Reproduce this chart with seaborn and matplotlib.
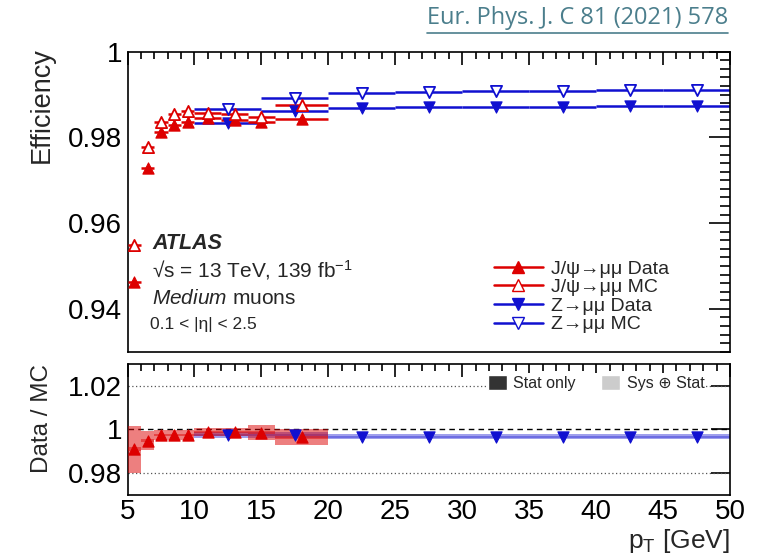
import numpy as np
import pandas as pd
import matplotlib
matplotlib.use("Agg")
import matplotlib.pyplot as plt
import seaborn as sns
from matplotlib.lines import Line2D
from matplotlib.patches import Patch
from matplotlib.ticker import MultipleLocator, FuncFormatter

# ---------------- data ----------------
jpsi_lo = [5, 6, 7, 8, 9, 10, 12, 14, 16]
jpsi_hi = [6, 7, 8, 9, 10, 12, 14, 16, 20]
jpsi_pt = [5.5, 6.5, 7.5, 8.5, 9.5, 11, 13, 15, 18]
jpsi_data = [0.9462, 0.9728, 0.9813, 0.9830, 0.9835, 0.9845, 0.9841, 0.9835, 0.9842]
jpsi_mc = [0.9549, 0.9778, 0.9837, 0.9855, 0.9862, 0.9856, 0.9855, 0.9848, 0.9876]
jpsi_ratio = [0.9908, 0.9948, 0.9974, 0.9974, 0.9973, 0.9988, 0.9986, 0.9985, 0.9963]
jpsi_sys = [0.0108, 0.0042, 0.0023, 0.0023, 0.0023, 0.0018, 0.0018, 0.0033, 0.0036]
jpsi_stat = [0.0010, 0.0006, 0.0004, 0.0004, 0.0004, 0.0005, 0.0005, 0.0006, 0.0008]

z_lo = [10, 15, 20, 25, 30, 35, 40, 45]
z_hi = [15, 20, 25, 30, 35, 40, 45, 50]
z_pt = [12.5, 17.5, 22.5, 27.5, 32.5, 37.5, 42.5, 47.5]
z_data = [0.9833, 0.9862, 0.9869, 0.9870, 0.9871, 0.9872, 0.9873, 0.9874]
z_mc = [0.9866, 0.9891, 0.9904, 0.9907, 0.9908, 0.9909, 0.9911, 0.9911]
z_ratio = [0.9972, 0.9975, 0.9966, 0.9965, 0.9965, 0.9965, 0.9965, 0.9965]
z_sys = [0.0014, 0.0014, 0.0012, 0.0012, 0.0012, 0.0012, 0.0012, 0.0012]
z_stat = [0.0005, 0.0005, 0.0004, 0.0004, 0.0004, 0.0004, 0.0004, 0.0004]

legend_labels = ["J/\u03c8\u2192\u03bc\u03bc Data", "J/\u03c8\u2192\u03bc\u03bc MC",
                 "Z\u2192\u03bc\u03bc Data", "Z\u2192\u03bc\u03bc MC"]
band_labels = ["Stat only", "Sys \u2295 Stat"]

RED = "#dd0000"
BLUE = "#1010d0"

# ---------------- style ----------------
sns.set_theme(style="white")
plt.rcParams["font.family"] = ["Liberation Sans", "DejaVu Sans"]
plt.rcParams["mathtext.fontset"] = "custom"
plt.rcParams["mathtext.rm"] = "Liberation Sans"
plt.rcParams["mathtext.it"] = "Liberation Sans:italic"
plt.rcParams["axes.linewidth"] = 1.2
plt.rcParams["axes.edgecolor"] = "black"

W, H = 766, 558
fig = plt.figure(figsize=(W / 100, H / 100), dpi=100)
fig.patch.set_facecolor("white")


def fx(px):
    return px / W


def fy(py):
    return 1 - py / H


left, right = 127.5, 730
ax1 = fig.add_axes([fx(left), fy(351.7), fx(right - left), (351.7 - 51.7) / H])
ax2 = fig.add_axes([fx(left), fy(494.5), fx(right - left), (494.5 - 364.0) / H])

fmt = FuncFormatter(lambda v, p: f"{v:g}")

# ---------------- top panel ----------------
jp = pd.DataFrame({"pt": jpsi_pt, "data": jpsi_data, "mc": jpsi_mc, "lo": jpsi_lo, "hi": jpsi_hi})
zz = pd.DataFrame({"pt": z_pt, "data": z_data, "mc": z_mc, "lo": z_lo, "hi": z_hi})

ax1.hlines(zz["mc"], zz["lo"], zz["hi"], color=BLUE, lw=1.8, zorder=2)
ax1.hlines(zz["data"], zz["lo"], zz["hi"], color=BLUE, lw=1.8, zorder=2)
ax1.hlines(jp["mc"], jp["lo"], jp["hi"], color=RED, lw=1.8, zorder=3)
ax1.hlines(jp["data"], jp["lo"], jp["hi"], color=RED, lw=1.8, zorder=3)

ms = 65
sns.scatterplot(data=zz, x="pt", y="data", marker="v", s=ms, color=BLUE, edgecolor=BLUE,
                linewidth=0.8, ax=ax1, zorder=4, legend=False)
sns.scatterplot(data=zz, x="pt", y="mc", marker="v", s=ms, facecolor="white", edgecolor=BLUE,
                linewidth=1.3, ax=ax1, zorder=4, legend=False)
sns.scatterplot(data=jp, x="pt", y="data", marker="^", s=ms, color=RED, edgecolor=RED,
                linewidth=0.8, ax=ax1, zorder=5, legend=False)
sns.scatterplot(data=jp, x="pt", y="mc", marker="^", s=ms, facecolor="white", edgecolor=RED,
                linewidth=1.3, ax=ax1, zorder=5, legend=False)

ax1.set_xlim(5, 50)
ax1.set_ylim(0.93, 1.0)
ax1.set_xlabel("")
ax1.set_ylabel("")
ax1.xaxis.set_major_locator(MultipleLocator(5))
ax1.xaxis.set_minor_locator(MultipleLocator(1))
ax1.yaxis.set_major_locator(MultipleLocator(0.02))
ax1.yaxis.set_minor_locator(MultipleLocator(0.002))
ax1.yaxis.set_major_formatter(fmt)
ax1.tick_params(axis="both", which="both", direction="in", top=True, right=True,
                labelbottom=False, colors="black", width=1.2)
ax1.tick_params(axis="y", which="major", length=15, labelsize=20, pad=4)
ax1.tick_params(axis="y", which="minor", length=7)
ax1.tick_params(axis="x", which="major", length=9)
ax1.tick_params(axis="x", which="minor", length=5)
for s in ax1.spines.values():
    s.set_visible(True)

handles = [
    Line2D([0], [0], color=RED, lw=1.8, marker="^", markersize=8, mfc=RED, mec=RED),
    Line2D([0], [0], color=RED, lw=1.8, marker="^", markersize=8, mfc="white", mec=RED),
    Line2D([0], [0], color=BLUE, lw=1.8, marker="v", markersize=8, mfc=BLUE, mec=BLUE),
    Line2D([0], [0], color=BLUE, lw=1.8, marker="v", markersize=8, mfc="white", mec=BLUE),
]
fig.legend(handles, legend_labels, loc="upper left", bbox_to_anchor=(fx(494), fy(260)),
           frameon=False, fontsize=14, handlelength=2.5, handletextpad=0.45,
           labelspacing=0.05, borderpad=0, borderaxespad=0)

# ---------------- ratio panel ----------------
jr = pd.DataFrame({"pt": jpsi_pt, "r": jpsi_ratio, "sys": jpsi_sys, "stat": jpsi_stat,
                   "lo": jpsi_lo, "hi": jpsi_hi})
zr = pd.DataFrame({"pt": z_pt, "r": z_ratio, "sys": z_sys, "stat": z_stat, "lo": z_lo, "hi": z_hi})

ax2.axhline(1.0, color="black", ls=(0, (4, 3)), lw=1.0, zorder=1)
for yv in (1.02, 0.98):
    ax2.axhline(yv, color="#555555", ls=(0, (1, 2)), lw=0.9, zorder=1)

ax2.bar(zr["lo"], 2 * zr["sys"], bottom=zr["r"] - zr["sys"], width=zr["hi"] - zr["lo"],
        align="edge", color=BLUE, alpha=0.4, linewidth=0, zorder=2)
ax2.bar(zr["lo"], 2 * zr["stat"], bottom=zr["r"] - zr["stat"], width=zr["hi"] - zr["lo"],
        align="edge", color=BLUE, alpha=0.35, linewidth=0, zorder=2)
ax2.bar(jr["lo"], 2 * jr["sys"], bottom=jr["r"] - jr["sys"], width=jr["hi"] - jr["lo"],
        align="edge", color=RED, alpha=0.5, linewidth=0, zorder=3)
ax2.bar(jr["lo"], 2 * jr["stat"], bottom=jr["r"] - jr["stat"], width=jr["hi"] - jr["lo"],
        align="edge", color=RED, alpha=0.45, linewidth=0, zorder=3)

sns.scatterplot(data=zr, x="pt", y="r", marker="v", s=ms, color=BLUE, edgecolor=BLUE,
                linewidth=0.8, ax=ax2, zorder=4, legend=False)
sns.scatterplot(data=jr, x="pt", y="r", marker="^", s=ms, color=RED, edgecolor=RED,
                linewidth=0.8, ax=ax2, zorder=5, legend=False)

ax2.set_xlim(5, 50)
ax2.set_ylim(0.97, 1.03)
ax2.set_xlabel("")
ax2.set_ylabel("")
ax2.xaxis.set_major_locator(MultipleLocator(5))
ax2.xaxis.set_minor_locator(MultipleLocator(1))
ax2.set_yticks([0.98, 1.0, 1.02])
ax2.yaxis.set_major_formatter(fmt)
ax2.tick_params(axis="both", which="both", direction="in", top=True, right=True,
                colors="black", width=1.2)
ax2.tick_params(axis="y", which="major", length=14, labelsize=20, pad=4)
ax2.tick_params(axis="x", which="major", length=9, labelsize=20, pad=3)
ax2.tick_params(axis="x", which="minor", length=5)
for s in ax2.spines.values():
    s.set_visible(True)

fig.legend([Patch(facecolor="#333333"), Patch(facecolor="#cccccc")], band_labels,
           ncol=2, loc="center left", bbox_to_anchor=(fx(486), fy(383)),
           frameon=True, facecolor="white", edgecolor="none", framealpha=1,
           fontsize=11.5, handlelength=1.2, handleheight=1.1, handletextpad=0.4,
           columnspacing=1.6, borderpad=0.1, borderaxespad=0, fancybox=False)

# ---------------- texts ----------------
fig.text(fx(42), fy(47), "Efficiency", rotation=90, ha="center", va="top", fontsize=19.5)
fig.text(fx(42), fy(364), "Data / MC", rotation=90, ha="center", va="top", fontsize=17.5)
fig.text(fx(730), fy(541), r"p$_{\mathrm{T}}$ [GeV]", ha="right", va="center", fontsize=19)

fig.text(fx(152), fy(243), "ATLAS", fontsize=15.5, fontweight="bold", fontstyle="italic",
         va="center", ha="left")
fig.text(fx(152), fy(270), "\u221as = 13 TeV, 139 fb$^{\\mathregular{-1}}$", fontsize=15,
         va="center", ha="left")
fig.text(fx(152), fy(298), r"$\mathit{Medium}$ muons", fontsize=15, va="center", ha="left")
fig.text(fx(150), fy(325), "0.1 < |\u03b7| < 2.5", fontsize=12.5, va="center", ha="left")

CITE = "#4b7e8c"
fig.text(fx(728), fy(18), "Eur. Phys. J. C 81 (2021) 578", color=CITE, fontsize=17,
         ha="right", va="center", family=["Open Sans", "DejaVu Sans"])
fig.add_artist(Line2D([fx(427), fx(728)], [fy(33), fy(33)], color=CITE, lw=1.2))

fig.savefig("out.png", dpi=100, facecolor="white")
